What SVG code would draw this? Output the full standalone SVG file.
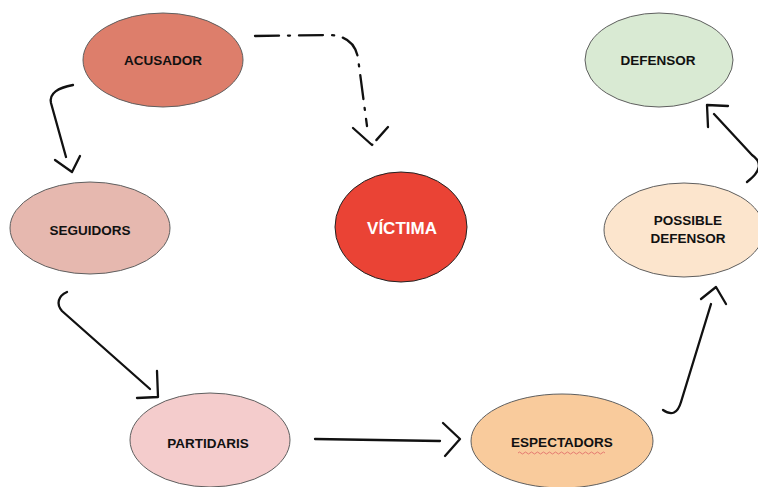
<svg xmlns="http://www.w3.org/2000/svg" width="758" height="487" viewBox="0 0 758 487">
<style>
.n{stroke:#5f5f5f;stroke-width:1}
.t{font-family:"Liberation Sans",Arial,sans-serif;font-weight:bold;font-size:13.5px;fill:#111;text-anchor:middle}
.c{fill:none;stroke:#111;stroke-width:2.3;stroke-linecap:round;stroke-linejoin:round}
.d{stroke-dasharray:24 9 2 9}
</style>
<rect width="758" height="487" fill="#fff"/>
<g id="acusador"><ellipse class="n" cx="163" cy="60" rx="80" ry="47" fill="#dd7e6b"/><text class="t" x="163" y="65">ACUSADOR</text></g>
<g id="seguidors"><ellipse class="n" cx="90" cy="228" rx="80" ry="46" fill="#e6b8af"/><text class="t" x="90" y="235">SEGUIDORS</text></g>
<g id="partidaris"><ellipse class="n" cx="210" cy="440" rx="80" ry="47" fill="#f4cccc"/><text class="t" x="208" y="448">PARTIDARIS</text></g>
<g id="espectadors"><ellipse class="n" cx="562" cy="441" rx="91" ry="47" fill="#f9cb9c"/><text class="t" x="562" y="447">ESPECTADORS</text><path d="M518 453 q1.5 -2 3 0 t3 0 t3 0 t3 0 t3 0 t3 0 t3 0 t3 0 t3 0 t3 0 t3 0 t3 0 t3 0 t3 0 t3 0 t3 0 t3 0 t3 0 t3 0 t3 0 t3 0 t3 0 t3 0 t3 0 t3 0 t3 0 t3 0 t3 0 t3 0" fill="none" stroke="#e06666" stroke-width="0.8"/></g>
<g id="victima"><ellipse cx="401" cy="227" rx="66" ry="55" fill="#ea4335" stroke="#222" stroke-width="1"/><text class="t" x="402" y="234" style="fill:#fff;font-size:17px">VÍCTIMA</text></g>
<g id="defensor"><ellipse class="n" cx="659" cy="60" rx="74" ry="47" fill="#d9ead3"/><text class="t" x="658" y="65">DEFENSOR</text></g>
<g id="possible-defensor"><ellipse class="n" cx="684" cy="230" rx="80" ry="47" fill="#fce5cd"/><text class="t" x="688" y="225">POSSIBLE</text><text class="t" x="688" y="243">DEFENSOR</text></g>
<g id="connectors">
<path class="c" d="M73 85 C58 88 49 93 51 103 L66 157"/>
<path class="c" d="M55 160 L72 172 L80 156"/>
<path class="c" d="M67 292 C58 296 56 304 62 311 L150 389"/>
<path class="c" d="M157 371 L158 397 L137 398"/>
<path class="c" d="M315 439 L440 441"/>
<path class="c" d="M443 423 L460 439 L445 456"/>
<path class="c" d="M663 410 Q676 419 681 402 L711 304"/>
<path class="c" d="M701 299 L716 287 L726 304"/>
<path class="c" d="M747 182 Q768 166 752 155 L714 114"/>
<path class="c" d="M708 127 L707 105 L728 106"/>
<path class="c d" d="M255 36 L330 35 C345 36 355 42 358 58 L367 126"/>
<path class="c" d="M353 128 L372 145 L388 127" stroke-dasharray="26 6"/>
</g>
</svg>
